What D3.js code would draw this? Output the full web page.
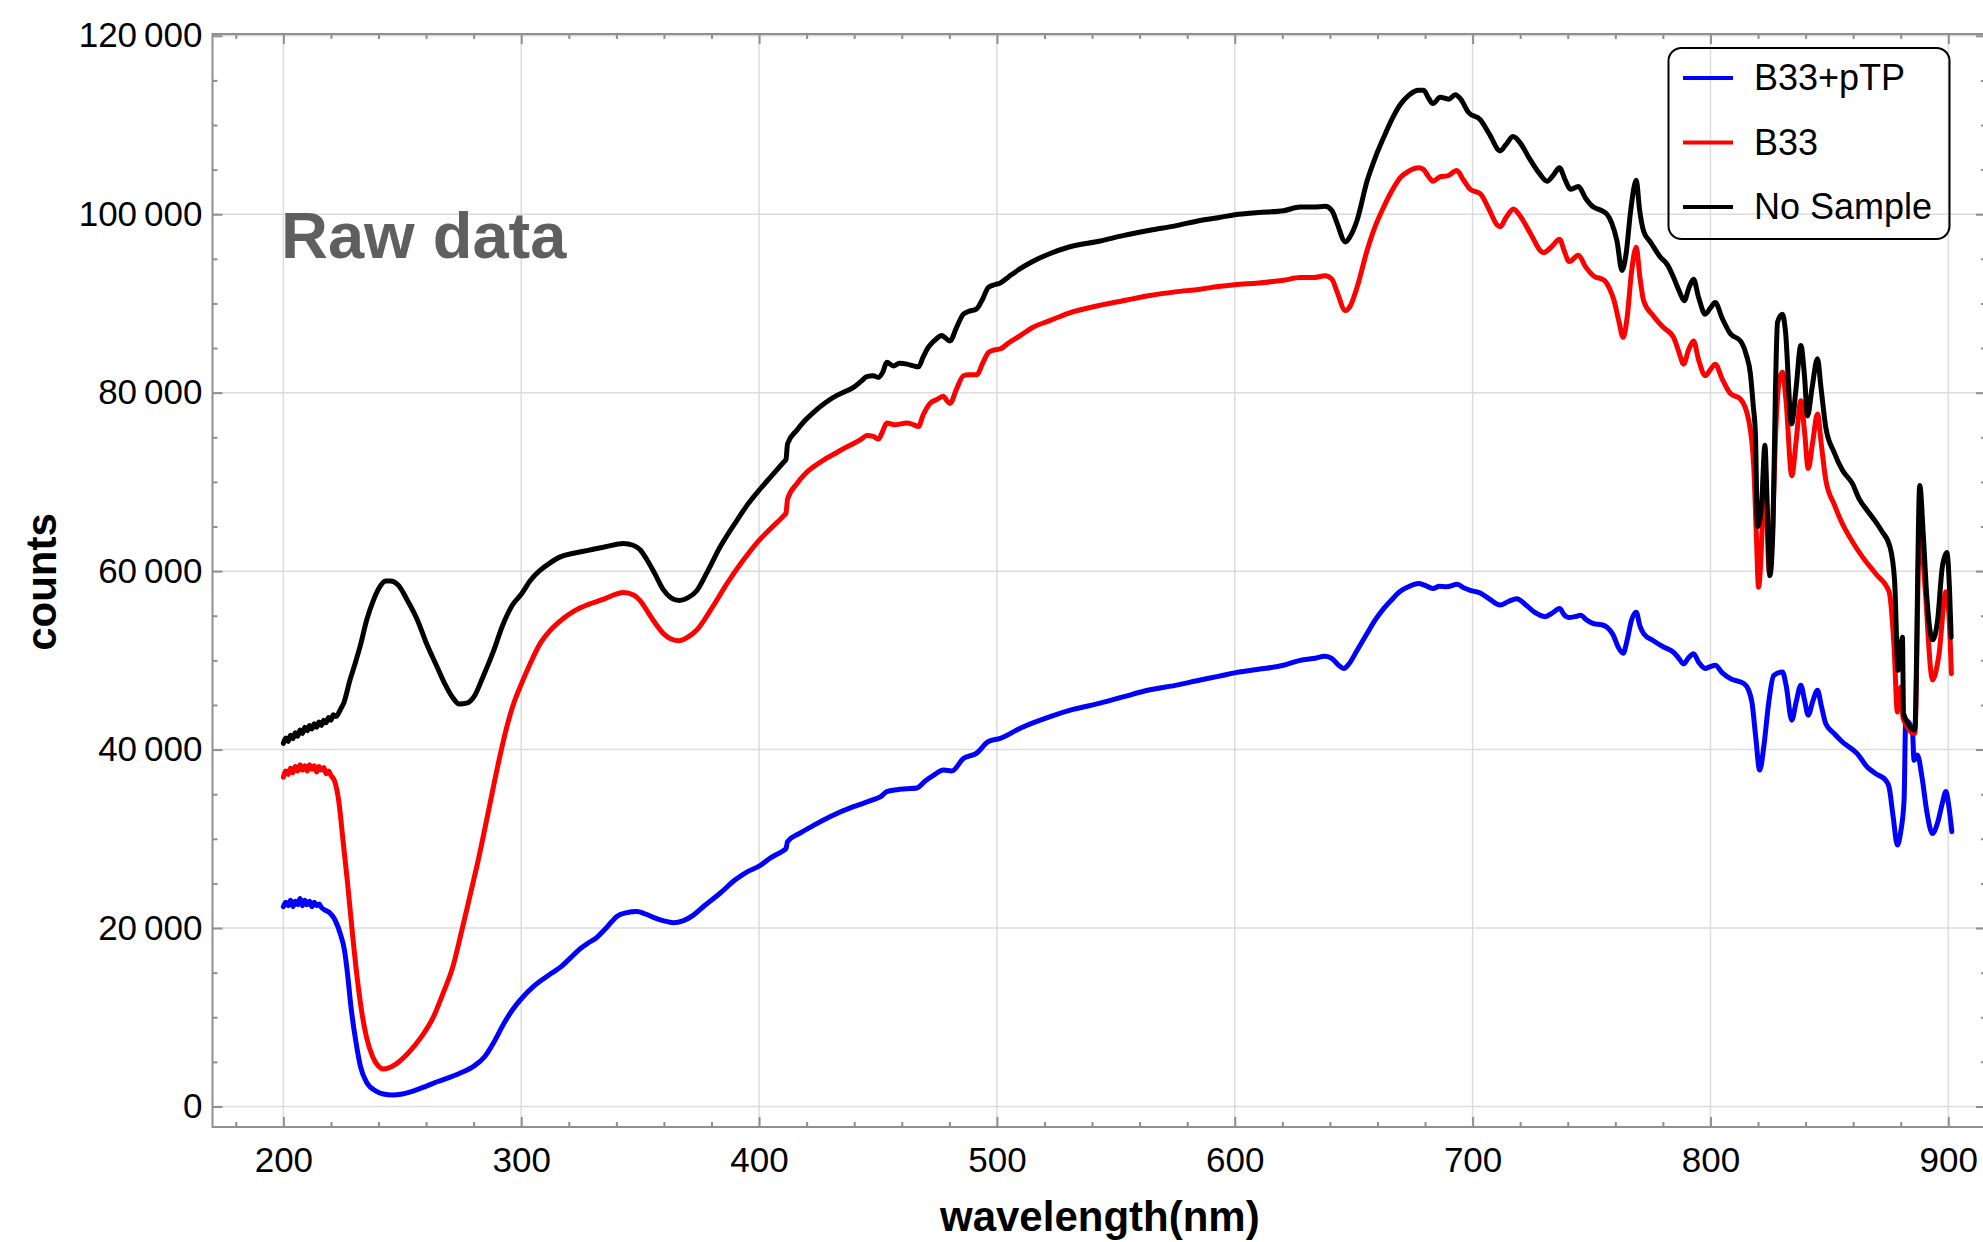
<!DOCTYPE html>
<html>
<head>
<meta charset="utf-8">
<script src="https://cdn.jsdelivr.net/npm/d3@7"></script>
<style>
  body { margin: 0; background: #fff; }
  svg { display: block; font-family: "Liberation Sans", Arial, Helvetica, sans-serif; }
</style>
</head>
<body>
<svg id="chart" width="1983" height="1242"></svg>
<script>
// values: [wavelength nm, counts]
const b33pTP = [
  [200, 22400], [201, 22900], [202, 22500], [203, 23100], [204, 22400], [205, 23000], [206, 22600],
  [207, 23300], [208, 22500], [209, 23100], [210, 22600], [211, 23000], [212, 22400], [213, 22900],
  [214, 22500], [215, 22700], [216, 22300], [217.5, 22000], [219.5, 21700], [221.7, 20900], [224, 19300],
  [225.7, 17500], [227, 14800], [228.4, 11200], [230.4, 7400], [232.4, 4500], [235, 2700], [239.1, 1700],
  [242, 1400], [245.8, 1300], [250, 1400], [257.9, 2050], [265, 2800], [274, 3700], [280, 4500],
  [284.7, 5600], [288.5, 7200], [292.7, 9300], [296.5, 10900], [300.8, 12300], [304.5, 13300],
  [308.8, 14200], [312.5, 14900], [316.9, 15700], [320.5, 16600], [324.9, 17700], [328, 18300],
  [331.6, 18900], [335, 19800], [338, 20700], [340.2, 21300], [344, 21700], [348.6, 21850], [352, 21600],
  [355.6, 21200], [360, 20800], [364, 20600], [368, 20800], [372.4, 21450], [377, 22500], [383.6, 23900],
  [390, 25400], [395, 26300], [399.8, 26900], [405, 27900], [410.3, 28700], [411.3, 28900], [412, 29700],
  [417, 30600], [422.9, 31500], [430, 32500], [439.7, 33600], [444, 34000], [448.1, 34400], [451, 34700],
  [453.7, 35300], [458, 35500], [462, 35600], [466.3, 35700], [470, 36500], [473.3, 37100], [477.5, 37700],
  [481, 37600], [485.9, 39000], [491.5, 39600], [496.4, 40900], [501.4, 41250], [509.8, 42400],
  [522.4, 43700], [532, 44500], [543.4, 45200], [553, 45900], [564.4, 46700], [575, 47200], [585.5, 47800],
  [593, 48200], [600, 48600], [610, 49000], [620.5, 49450], [627.5, 50000], [633, 50200], [638, 50450],
  [640.9, 50200], [643.5, 49500], [645.8, 49100], [648, 49600], [651.4, 51100], [655.6, 53000],
  [659, 54500], [662.6, 55800], [666, 56800], [669.6, 57750], [673, 58250], [677.3, 58600], [680, 58400],
  [683.3, 58050], [686, 58300], [689, 58250], [693.6, 58520], [696.5, 58100], [699, 57850], [703.2, 57550],
  [707, 56900], [711.6, 56200], [715, 56600], [718.6, 56900], [722, 56300], [726, 55400], [730.5, 54900],
  [733.5, 55300], [736.6, 55800], [738.5, 55100], [740.4, 54800], [743, 54900], [745.4, 55050],
  [748, 54500], [751, 54100], [754, 54000], [756.6, 53700], [759, 52900], [761.2, 51500], [763.3, 50800],
  [765, 52300], [766.8, 54500], [768.8, 55400], [770.3, 53900], [771.9, 53000], [776, 52200],
  [780.3, 51500], [784.5, 50900], [786.8, 50200], [788.7, 49600], [790.8, 50300], [792.9, 50750],
  [795, 49800], [797.8, 49100], [800, 49300], [802, 49450], [805, 48600], [808.4, 47950], [814, 47400],
  [816, 46700], [817.5, 45200], [819, 41500], [820.7, 37700], [822.5, 40500], [824.5, 45300],
  [826.6, 48300], [830.3, 48700], [831.8, 47200], [834.2, 43300], [836, 45300], [838, 47200],
  [839.6, 45500], [841.1, 43850], [843, 45400], [845, 46650], [846.7, 44800], [848.5, 42900],
  [852, 41800], [855.5, 40850], [861.7, 39550], [865.9, 38050], [869.5, 37300], [873.7, 36550],
  [875.1, 35800], [876.8, 32500], [878.6, 29300], [880, 30800], [881.4, 34300], [882.1, 43300],
  [884.9, 42200], [885.6, 38800], [887, 39400], [889, 36800], [891, 33000], [893.3, 30600],
  [895.5, 31800], [897.5, 34000], [899, 35300], [900.3, 33500], [901.5, 30800]
];

const b33 = [
  [200, 36900], [201, 37600], [202, 37200], [203, 37900], [204, 37400], [205, 38100], [206, 37600],
  [207, 38300], [208, 37700], [209, 38200], [210, 37600], [211, 38300], [212, 37800], [213, 38200],
  [214, 37500], [215, 38100], [216, 37700], [217, 38000], [218, 37300], [219, 37600], [220, 37100],
  [221.5, 36500], [223.4, 34000], [225, 30000], [227, 25000], [229, 19500], [231, 14500], [233, 10500],
  [235, 7700], [237.5, 5600], [240, 4500], [242, 4200], [244, 4300], [247, 4700], [252.5, 6000],
  [258, 7800], [263.2, 10100], [267, 12600], [271.3, 15700], [275, 19700], [278, 23100], [282, 27700],
  [286, 32800], [290, 38000], [294, 42600], [297, 45300], [299.5, 47000], [303.7, 49600], [308, 51900],
  [312, 53300], [317.7, 54700], [322, 55500], [327.6, 56200], [335, 56900], [343, 57600], [347.4, 57300],
  [350, 56700], [352.8, 55600], [356, 54300], [359.8, 53000], [363, 52400], [366.5, 52200], [370, 52600],
  [373.8, 53400], [380, 55800], [386.5, 58600], [393, 61100], [399.8, 63400], [405, 64800],
  [410.3, 66200], [411.3, 66500], [412, 68100], [415.9, 69800], [419, 70800], [422.9, 71700],
  [428, 72600], [432.7, 73300], [436, 73800], [439.7, 74300], [443, 74800], [445.3, 75200], [448, 75100],
  [450.2, 74800], [452, 75700], [453.7, 76600], [457, 76400], [462.2, 76600], [465, 76400], [467, 76200],
  [469, 77500], [471.9, 78800], [474.5, 79200], [477.5, 79600], [479, 79100], [480.3, 78800],
  [483, 80400], [485.9, 81900], [488, 82000], [491.5, 82000], [494, 83300], [496.4, 84500], [499, 84800],
  [501.4, 84900], [505, 85600], [509.8, 86400], [515, 87300], [522.4, 88100], [530, 88900],
  [543.4, 89800], [553, 90300], [564.4, 90900], [575, 91300], [585.5, 91600], [593, 91900], [600, 92100],
  [610, 92300], [620.5, 92600], [627.5, 92900], [633, 92900], [638, 93100], [640.9, 92700], [643, 91300],
  [646.5, 89200], [648.5, 89700], [651.4, 91800], [655.6, 95900], [659, 98600], [662.6, 100800],
  [666, 102600], [669.6, 104100], [673, 104800], [677.3, 105200], [679.4, 105000], [681.5, 104200],
  [683.3, 103700], [686.4, 104200], [689.5, 104300], [693.4, 104900], [696, 103900], [699, 102800],
  [703.2, 102300], [707, 100500], [710.3, 98800], [711.6, 98600], [714, 99600], [717.2, 100600],
  [720, 99800], [724, 98000], [729.8, 95700], [733, 96300], [736.6, 97200], [738.5, 95900],
  [740.6, 94700], [744.5, 95400], [747.5, 94100], [750.8, 93100], [755.3, 92600], [757.5, 91700],
  [759.5, 90300], [761.5, 88000], [763.3, 86200], [765, 88500], [766.8, 93500], [768.8, 96300],
  [770.3, 93000], [771.9, 90300], [776, 88600], [780.3, 87300], [784.5, 86200], [786.8, 84500],
  [788.7, 83200], [790.8, 84800], [792.9, 85800], [795, 83700], [797.8, 81900], [800, 82600],
  [802, 83200], [805, 81500], [808.4, 79900], [812.6, 79300], [816.1, 76900], [818.2, 71700],
  [819.3, 64000], [820.2, 58200], [821.4, 62500], [822.6, 72000], [823.7, 66000], [824.7, 59800],
  [826, 64000], [827.5, 76000], [829, 81500], [830.3, 82300], [831.8, 79000], [834.2, 70700],
  [836, 74500], [838, 79100], [839.6, 75500], [841.1, 71500], [843, 74500], [845, 77600],
  [846.7, 74000], [848.5, 70200], [852, 67500], [855.5, 65300], [859.7, 63300], [863.9, 61600],
  [869.5, 59700], [875.1, 57700], [877.2, 51500], [878.6, 44200], [880, 47000], [881, 43500],
  [885.9, 41800], [888, 65500], [890, 59000], [893.4, 47800], [896, 50500], [899, 57700],
  [900.3, 55000], [901.3, 48500]
];

const noSample = [
  [200, 40700], [201, 41300], [202, 40900], [203, 41600], [204, 41200], [205, 41900], [206, 41500],
  [207, 42200], [208, 41800], [209, 42500], [210, 42100], [211, 42700], [212, 42300], [213, 42900],
  [214, 42500], [215, 43100], [216, 42700], [217, 43300], [218, 43000], [219, 43600], [220, 43300],
  [221, 43900], [222, 43700], [224, 44500], [225.5, 45300], [228, 47800], [230, 49500], [232.4, 51700],
  [235, 54500], [237.8, 56700], [240, 58000], [243, 58900], [245, 58900], [248.4, 58400], [252, 56800],
  [256.4, 54500], [260, 52000], [264.4, 49400], [268, 47300], [271, 45900], [274, 45100], [277, 45200],
  [280.3, 46000], [284, 48200], [288.3, 51000], [292, 53800], [296.3, 56200], [300, 57400], [304, 59000],
  [308, 60100], [312, 60900], [316.4, 61600], [322, 62000], [327.6, 62300], [335, 62700], [343, 63100],
  [347, 62900], [350, 62400], [352.8, 61300], [356, 59800], [359.8, 57900], [363, 57000], [366.5, 56700],
  [370, 57000], [373.8, 57800], [378, 59800], [383.6, 62700], [390.7, 65700], [395, 67400],
  [399.8, 69000], [405, 70600], [410.3, 72200], [411.3, 72500], [412, 74300], [415.9, 75800],
  [419, 76800], [422.9, 77800], [428, 78900], [432.7, 79700], [436, 80100], [439.7, 80600], [443, 81300],
  [445.3, 81800], [448, 81900], [450.2, 81700], [452, 82300], [453.7, 83400], [456.5, 83000],
  [459, 83300], [462.2, 83200], [465, 83000], [467, 82900], [469, 84000], [471.2, 85100], [474, 85900],
  [476.8, 86400], [478.5, 86100], [480.3, 85800], [483, 87300], [485.9, 88800], [488, 89100],
  [491.5, 89400], [494, 90500], [496.4, 91800], [499, 92100], [501.4, 92300], [505, 93000],
  [509.8, 93900], [515, 94700], [522.4, 95600], [530, 96300], [543.4, 97000], [553, 97600],
  [564.4, 98200], [575, 98700], [585.5, 99300], [593, 99600], [600, 99950], [610, 100200],
  [620.5, 100400], [627.5, 100800], [633, 100800], [638, 100900], [640.9, 100400], [643, 99000],
  [646.5, 96900], [648.5, 97500], [651.4, 99300], [655.6, 103700], [659, 106300], [662.6, 108600],
  [666, 110600], [669.6, 112300], [673, 113300], [677.3, 113900], [679.4, 113900], [681.5, 113000],
  [683.3, 112400], [686.4, 113100], [689.9, 112900], [692.7, 113400], [695, 112900], [698.3, 111400],
  [703.2, 110600], [707, 109000], [711.6, 107100], [714, 107800], [717, 108700], [720, 108000],
  [724, 106200], [728, 104600], [731.3, 103700], [734, 104400], [736.5, 105200], [739, 103800],
  [741.1, 102800], [744.5, 103100], [747.5, 101800], [750.8, 100800], [753.5, 100500], [756.5, 100000],
  [758.5, 99000], [760.7, 97000], [762.8, 93700], [764.5, 95500], [766.5, 100500], [768.8, 103800],
  [770.2, 100500], [771.9, 98100], [775, 96800], [778.9, 95200], [782, 94300], [784.5, 92900],
  [787, 91300], [789, 90300], [791, 91800], [792.9, 92700], [795, 90700], [797.8, 88800], [800, 89500],
  [802, 90100], [805, 88300], [808.4, 86600], [812.6, 85800], [815, 84300], [816.8, 82100],
  [818, 78500], [818.9, 75400], [819.8, 65000], [821.5, 67500], [822.9, 74100], [823.8, 68000],
  [825, 59500], [826.3, 65000], [827.3, 80000], [828.2, 87900], [830.3, 88800], [831.5, 87000],
  [834.1, 76500], [836, 80500], [838, 85300], [839.5, 82000], [840.8, 77400], [842.7, 80500],
  [845, 83800], [846.5, 80500], [848.5, 76100], [852, 73300], [855.5, 71300], [859.7, 69800],
  [862.5, 68100], [865.9, 66800], [869, 65700], [872, 64500], [875.5, 62700], [877.4, 59000],
  [878.9, 48900], [879.8, 50500], [880.7, 52600], [881.2, 44000], [885.9, 42200], [888, 69600],
  [889.5, 64000], [891, 57000], [893.4, 52300], [895.5, 54500], [897.5, 60500], [899.4, 62100],
  [900.5, 58000], [901.2, 52600]
];

const seriesNames = ["B33+pTP", "B33", "No Sample"];
const seriesColors = ["#0000ff", "#ff0000", "#000000"];
const xMajorTicks = [200, 300, 400, 500, 600, 700, 800, 900];
const yMajorTicks = [0, 20000, 40000, 60000, 80000, 100000, 120000];

const svg = d3.select("#chart");
const frame = { left: 212.5, right: 1986, top: 34, bottom: 1127 };

const x = d3.scaleLinear().domain([170.2, 915.85]).range([frame.left, frame.right]);
const y = d3.scaleLinear().domain([-2300, 120200]).range([frame.bottom, frame.top]);

const xMinor = d3.range(180, 915, 20).filter(v => v % 100 !== 0);
const yMinor = d3.range(0, 120001, 5000).filter(v => v % 20000 !== 0);
const fmt = d => d3.format(",")(d).replace(/,/g, "\u2009");

// grid
svg.append("g").selectAll("line").data(xMajorTicks).join("line")
  .attr("x1", d => x(d)).attr("x2", d => x(d))
  .attr("y1", frame.top).attr("y2", frame.bottom)
  .attr("stroke", "#dcdcdc").attr("stroke-width", 1.5);
svg.append("g").selectAll("line").data(yMajorTicks).join("line")
  .attr("x1", frame.left).attr("x2", frame.right)
  .attr("y1", d => y(d)).attr("y2", d => y(d))
  .attr("stroke", "#dcdcdc").attr("stroke-width", 1.5);

// data lines
svg.append("clipPath").attr("id", "clip").append("rect")
  .attr("x", frame.left).attr("y", frame.top)
  .attr("width", frame.right - frame.left).attr("height", frame.bottom - frame.top);

const line = d3.line().x(d => x(d[0])).y(d => y(d[1])).curve(d3.curveMonotoneX);
const allSeries = [b33pTP, b33, noSample];
svg.append("g").attr("clip-path", "url(#clip)")
  .selectAll("path").data(allSeries).join("path")
  .attr("d", line)
  .attr("fill", "none")
  .attr("stroke", (d, i) => seriesColors[i])
  .attr("stroke-width", 5)
  .attr("stroke-linejoin", "round")
  .attr("stroke-linecap", "round");

// frame + ticks
function styleAxis(g) {
  g.select(".domain").remove();
  g.selectAll(".tick line").attr("stroke", "#8f8f8f").attr("stroke-width", 2);
  g.selectAll(".tick text").attr("fill", "#000").style("font-size", "35px")
    .style("font-family", "'Liberation Sans', Arial, Helvetica, sans-serif");
}

svg.append("g").attr("transform", `translate(0,${frame.bottom})`)
  .call(d3.axisBottom(x).tickValues(xMajorTicks).tickSize(-10).tickPadding(20).tickFormat(d3.format("d")))
  .call(styleAxis);
svg.append("g").attr("transform", `translate(0,${frame.bottom})`)
  .call(d3.axisBottom(x).tickValues(xMinor).tickSize(-5).tickFormat(""))
  .call(styleAxis);
svg.append("g").attr("transform", `translate(0,${frame.top})`)
  .call(d3.axisTop(x).tickValues(xMajorTicks).tickSize(-10).tickFormat(""))
  .call(styleAxis);
svg.append("g").attr("transform", `translate(0,${frame.top})`)
  .call(d3.axisTop(x).tickValues(xMinor).tickSize(-5).tickFormat(""))
  .call(styleAxis);

svg.append("g").attr("transform", `translate(${frame.left},0)`)
  .call(d3.axisLeft(y).tickValues(yMajorTicks).tickSize(-10).tickPadding(10).tickFormat(fmt))
  .call(styleAxis);
svg.append("g").attr("transform", `translate(${frame.left},0)`)
  .call(d3.axisLeft(y).tickValues(yMinor).tickSize(-5).tickFormat(""))
  .call(styleAxis);
svg.append("g").attr("transform", `translate(${frame.right},0)`)
  .call(d3.axisRight(y).tickValues(yMajorTicks).tickSize(-10).tickFormat(""))
  .call(styleAxis);
svg.append("g").attr("transform", `translate(${frame.right},0)`)
  .call(d3.axisRight(y).tickValues(yMinor).tickSize(-5).tickFormat(""))
  .call(styleAxis);

svg.append("rect")
  .attr("x", frame.left).attr("y", frame.top)
  .attr("width", frame.right - frame.left).attr("height", frame.bottom - frame.top)
  .attr("fill", "none").attr("stroke", "#8f8f8f").attr("stroke-width", 2);

// labels
svg.append("text")
  .attr("x", (x(200) + x(900)) / 2 - 16).attr("y", 1231)
  .attr("text-anchor", "middle")
  .style("font-size", "42px").style("font-weight", "bold")
  .text("wavelength(nm)");

svg.append("text")
  .attr("transform", "translate(56,582) rotate(-90)")
  .attr("text-anchor", "middle")
  .style("font-size", "42px").style("font-weight", "bold")
  .text("counts");

svg.append("text")
  .attr("x", 281).attr("y", 258)
  .attr("fill", "#5f5f5f")
  .style("font-size", "65px").style("font-weight", "bold")
  .text("Raw data");

// legend
const legend = svg.append("g");
legend.append("rect")
  .attr("x", 1668.5).attr("y", 48).attr("width", 281).attr("height", 191)
  .attr("rx", 13).attr("fill", "none").attr("stroke", "#000").attr("stroke-width", 2);
const items = legend.selectAll("g.item").data(seriesNames).join("g")
  .attr("class", "item")
  .attr("transform", (d, i) => `translate(0,${78 + i * 64.5})`);
items.append("line")
  .attr("x1", 1683).attr("x2", 1733)
  .attr("stroke", (d, i) => seriesColors[i]).attr("stroke-width", 4);
items.append("text")
  .attr("x", 1754).attr("y", 12)
  .style("font-size", "36px")
  .text(d => d);
</script>
</body>
</html>
